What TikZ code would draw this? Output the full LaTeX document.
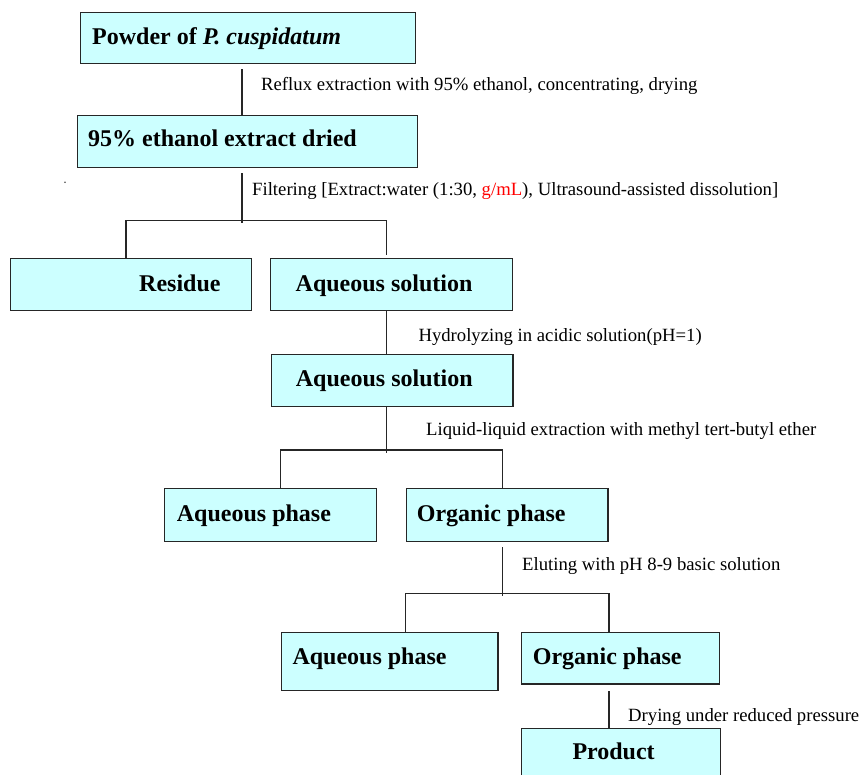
\documentclass[tikz,border=0pt]{standalone}
\usepackage{fontspec}
\setmainfont{Liberation Serif}
\definecolor{boxcyan}{HTML}{CCFFFF}
\definecolor{lblred}{HTML}{FF0000}
\tikzset{
  flowbox/.style={draw=black!85, line width=1.4pt, fill=boxcyan, rectangle, inner sep=0pt, anchor=north west},
  boxtext/.style={anchor=base west, inner sep=0pt, font=\bfseries\fontsize{24}{28}\selectfont},
  lbl/.style={anchor=base west, inner sep=0pt, font=\fontsize{18.7}{22}\selectfont},
  conn/.style={line width=1.4pt, draw=black!85}
}
\begin{document}
\begin{tikzpicture}[x=1pt,y=-1pt]
\useasboundingbox (0,0) rectangle (861,775);
\clip (0,0) rectangle (861,775);
% boxes
\node[flowbox, minimum width=335pt, minimum height=51pt] (b1) at (80,11.7) {};
\node[boxtext] (t1) at (92,44.3) {Powder of \textit{P. cuspidatum}};
\node[flowbox, minimum width=340pt, minimum height=52pt] (b2) at (77,115) {};
\node[boxtext] (t2) at (88,146.7) {95\% ethanol extract dried};
\node[flowbox, minimum width=241pt, minimum height=52pt] (res) at (10,258) {};
\node[boxtext] (tres) at (139,291.7) {Residue};
\node[flowbox, minimum width=242pt, minimum height=52pt] (aq1) at (270,258) {};
\node[boxtext] (taq1) at (295.5,291.7) {Aqueous solution};
\node[flowbox, minimum width=241.5pt, minimum height=52pt] (aq2) at (270.7,354) {};
\node[boxtext] (taq2) at (295.7,386.7) {Aqueous solution};
\node[flowbox, minimum width=212pt, minimum height=53pt] (aph1) at (164,488) {};
\node[boxtext] (taph1) at (176.7,521) {Aqueous phase};
\node[flowbox, minimum width=201.6pt, minimum height=53pt] (oph1) at (405.7,488) {};
\node[boxtext] (toph1) at (416.7,521) {Organic phase};
\node[flowbox, minimum width=216.6pt, minimum height=58pt] (aph2) at (280.7,632) {};
\node[boxtext] (taph2) at (292.3,664) {Aqueous phase};
\node[flowbox, minimum width=198pt, minimum height=51.3pt] (oph2) at (521,632) {};
\node[boxtext] (toph2) at (532.7,664) {Organic phase};
\node[flowbox, minimum width=199pt, minimum height=70pt] (prod) at (521,728) {};
\node[boxtext] (tprod) at (572.3,759.3) {Product};
% labels
\node[lbl] (l1) at (261,91) {Reflux extraction with 95\% ethanol, concentrating, drying};
\node[lbl] (l2) at (252,195.5) {Filtering [Extract:water (1:30, \textcolor{lblred}{g/mL}), Ultrasound-assisted dissolution]};
\node[lbl] (l3) at (418.3,341.7) {Hydrolyzing in acidic solution(pH=1)};
\node[lbl] (l4) at (426,435) {Liquid-liquid extraction with methyl tert-butyl ether};
\node[lbl] (l5) at (522,570) {Eluting with pH 8-9 basic solution};
\node[lbl] (l6) at (628,721.7) {Drying under reduced pressure};
% stray dot
\node[circle, fill=black!70, inner sep=0pt, minimum size=1.6pt] (dot) at (65,182.3) {};
% junction coordinates
\coordinate (j1) at (242,220.3);
\coordinate (j2) at (386.7,450);
\coordinate (j3) at (502.3,593.3);
% connectors
\draw[conn] ([yshift=-5pt]b1.south -| j1) -- (b2.north -| j1);
\draw[conn] ([yshift=-5pt]b2.south -| j1) -- ([yshift=-2.4pt]j1);
\draw[conn] (res.north -| 126,0) |- (j1) -| ([yshift=3pt]aq1.north -| 386.7,0);
\draw[conn] (aq1.south -| j2) -- (aq2.north -| j2);
\draw[conn] (aq2.south -| j2) -- ([yshift=-3.3pt]j2);
\draw[conn] (aph1.north -| 280.3,0) |- (j2) -| (oph1.north -| j3);
\draw[conn] ([yshift=-4.7pt]oph1.south -| j3) -- ([yshift=-2.7pt]j3);
\draw[conn] (aph2.north -| 405.7,0) |- (j3) -| (oph2.north -| 609,0);
\draw[conn] (aph2.south -| 609,0) -- (prod.north -| 609,0);
\end{tikzpicture}
\end{document}
